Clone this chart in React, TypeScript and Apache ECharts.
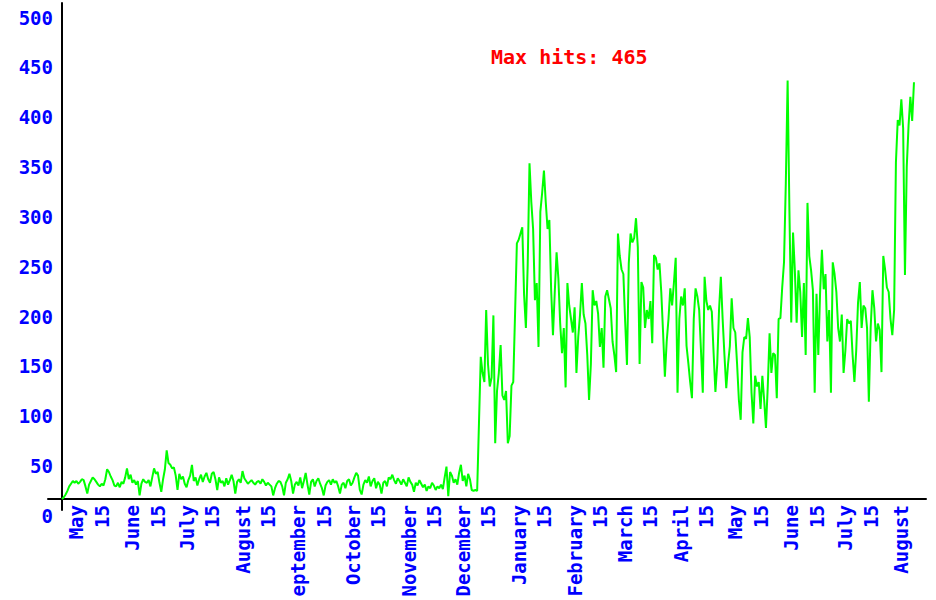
import React, { useEffect, useRef } from "react";
import * as echarts from "echarts";

// ---- axis / calendar definitions ----
// month labels exactly as they appear under the axis (September's "S" is cut off in the reference)
const monthNames = [
  "January", "February", "March", "April", "May", "June",
  "July", "August", "eptember", "October", "November", "December",
];
const monthLengths = [31, 28, 31, 30, 31, 30, 31, 31, 30, 31, 30, 31];
const startMonth = 3; // April (0-based)
const startDay = 23;
const daySlots = 478; // days shown on the x axis
const midMonthLabel = "15";
const yMin = 0;
const yMax = 500;
const yStep = 50;
const titleText = "Max hits: 465";

// ---- daily hits ----
const hitsSpringSummer = [
  0, 2, 5, 9, 14, 17, 20, 18, 20, 17,
  19, 22, 21, 14, 6, 16, 20, 24, 22, 19,
  16, 14, 17, 15, 22, 33, 30, 25, 21, 15,
  14, 18, 13, 19, 17, 24, 34, 22, 27, 18,
  21, 16, 20, 4, 17, 22, 19, 18, 21, 14,
  24, 34, 28, 30, 18, 8, 22, 33, 54, 40,
  38, 34, 35, 26, 10, 28, 22, 25, 17, 13,
  21, 26, 38, 20, 24, 15, 22, 27, 19, 25,
  29, 22, 18, 28, 30, 22, 10, 24, 18, 20,
  14, 23, 16, 21, 27, 20, 6, 19, 22, 18,
  31, 23, 20, 17, 19, 21, 18, 16, 19, 20,
];
const hitsAutumn = [
  17, 22, 19, 15, 18, 16, 14, 4, 12, 17,
  20, 19, 14, 4, 18, 22, 28, 20, 6, 16,
  19, 15, 24, 12, 20, 29, 16, 5, 19, 22,
  14, 20, 23, 17, 12, 4, 15, 19, 21, 16,
  22, 18, 20, 14, 6, 16, 18, 12, 20, 22,
  15, 18, 24, 29, 26, 10, 5, 16, 21, 18,
  25, 14, 20, 23, 12, 19, 16, 6, 18, 20,
  14, 24, 22, 27, 21, 17, 23, 20, 16, 22,
  18, 14, 24, 19, 16, 8, 18, 15, 21, 17,
  13, 16, 9, 14, 12, 18, 15, 10, 14, 12,
  16, 11, 24, 36, 3, 30, 26, 18, 22, 16,
  29, 38, 20, 26, 14, 28, 22, 10, 9, 10, 9,
];
const hitsWinter = [
  84, 158, 140, 130, 210, 150, 125, 135, 204, 62,
  120, 140, 171, 115, 110, 120, 62, 70, 126, 130,
  206, 284, 288, 295, 302, 227, 190, 260, 373, 330,
  300, 221, 240, 169, 319, 340, 365, 330, 300, 310,
  232, 182, 230, 274, 245, 195, 162, 190, 124, 240,
  215, 200, 185, 213, 140, 180, 205, 240, 205, 195,
  160, 110, 150, 232, 215, 220, 206, 169, 190, 146,
  225, 232, 222, 212, 175, 160, 141, 295, 270, 255,
];
const hitsSpring = [
  250, 197, 149, 262, 295, 285, 290, 312, 280, 150,
  241, 235, 190, 210, 200, 220, 173, 271, 268, 255,
  262, 230, 185, 136, 175, 200, 234, 215, 240, 268,
  118, 200, 225, 215, 234, 170, 151, 130, 112, 200,
  234, 225, 210, 165, 118, 247, 220, 210, 215, 208,
  162, 119, 150, 210, 247, 200, 160, 123, 150, 170,
  223, 190, 185, 150, 110, 88, 163, 180, 178, 201,
  180, 118, 84, 137, 125, 130, 100, 137, 110, 79,
];
const hitsSummer = [
  125, 184, 140, 162, 160, 112, 200, 201, 235, 263,
  351, 465, 320, 196, 296, 254, 196, 254, 230, 180,
  240, 160, 329, 270, 254, 232, 118, 228, 160, 230,
  277, 233, 250, 175, 210, 118, 263, 250, 230, 190,
  175, 205, 140, 165, 200, 195, 198, 160, 130, 165,
  218, 241, 190, 215, 212, 190, 108, 190, 232, 212,
  175, 195, 188, 141, 270, 255, 235, 230, 200, 182,
  210, 374, 421, 415, 444, 412, 249, 369, 415, 447,
  420, 463,
];

const hits = [
  ...hitsSpringSummer,
  ...hitsAutumn,
  ...hitsWinter,
  ...hitsSpring,
  ...hitsSummer,
];

// build day categories (unique keys "year-month-day")
const dayKeys: string[] = [];
{
  let y = 0;
  let m = startMonth;
  let d = startDay;
  for (let i = 0; i < daySlots; i++) {
    dayKeys.push(`${y}-${m}-${d}`);
    d += 1;
    if (d > monthLengths[m]) {
      d = 1;
      m += 1;
      if (m > 11) {
        m = 0;
        y += 1;
      }
    }
  }
}

const parseKey = (k: string) => {
  const parts = k.split("-").map(Number);
  return { m: parts[1], d: parts[2] };
};

const FONT = "DejaVu Sans Mono";

export default function App() {
  const ref = useRef<HTMLDivElement>(null);

  useEffect(() => {
    document.body.style.margin = "0";
    if (!ref.current) return;
    const chart = echarts.init(ref.current, undefined, { renderer: "svg" });

    const axisFont = {
      fontFamily: FONT,
      fontWeight: "bold" as const,
      fontSize: 19,
      color: "#0000ff",
    };

    chart.setOption({
      animation: false,
      backgroundColor: "#ffffff",
      title: {
        text: titleText,
        left: 491,
        top: 47,
        padding: 0,
        textStyle: {
          color: "#ff0000",
          fontFamily: FONT,
          fontWeight: "bold",
          fontSize: 20,
        },
      },
      grid: [
        { left: 62, right: 13, top: 49, bottom: 101, containLabel: false, outerBoundsMode: "none" },
        { left: 62, right: 13, top: 17.5, bottom: 84, containLabel: false, outerBoundsMode: "none" },
        { left: 48, right: 10, top: 3, bottom: 90, containLabel: false, outerBoundsMode: "none" },
      ],
      xAxis: [
        {
          type: "category",
          gridIndex: 0,
          data: dayKeys,
          boundaryGap: false,
          axisLine: { show: false },
          axisTick: { show: false },
          splitLine: { show: false },
          axisLabel: {
            ...axisFont,
            rotate: 90,
            margin: 6,
            interval: (_i: number, v: string) => {
              const { d } = parseKey(v);
              return d === 1 || d === 15;
            },
            formatter: (v: string) => {
              const { m, d } = parseKey(v);
              if (d === 1) return monthNames[m];
              if (d === 15) return midMonthLabel;
              return "";
            },
          },
        },
        { type: "value", gridIndex: 1, show: false, min: 0, max: 1 },
        {
          type: "value",
          gridIndex: 2,
          min: -14,
          max: 864,
          axisLine: { show: true, onZero: true, lineStyle: { color: "#000000", width: 2 } },
          axisTick: { show: false },
          axisLabel: { show: false },
          splitLine: { show: false },
        },
      ],
      yAxis: [
        { type: "value", gridIndex: 0, min: yMin, max: yMax, show: false },
        {
          type: "value",
          gridIndex: 1,
          min: yMin,
          max: yMax,
          interval: yStep,
          axisLine: { show: false },
          axisTick: { show: false },
          splitLine: { show: false },
          axisLabel: { ...axisFont, margin: 9 },
        },
        {
          type: "value",
          gridIndex: 2,
          min: -11,
          max: 496,
          axisLine: { show: true, onZero: true, lineStyle: { color: "#000000", width: 2 } },
          axisTick: { show: false },
          axisLabel: { show: false },
          splitLine: { show: false },
        },
      ],
      series: [
        {
          type: "line",
          xAxisIndex: 0,
          yAxisIndex: 0,
          data: hits,
          showSymbol: false,
          symbol: "none",
          silent: true,
          lineStyle: { color: "#00ff00", width: 2 },
          itemStyle: { color: "#00ff00" },
        },
      ],
    });

    return () => {
      chart.dispose();
    };
  }, []);

  return <div ref={ref} style={{ width: 936, height: 600 }} />;
}
